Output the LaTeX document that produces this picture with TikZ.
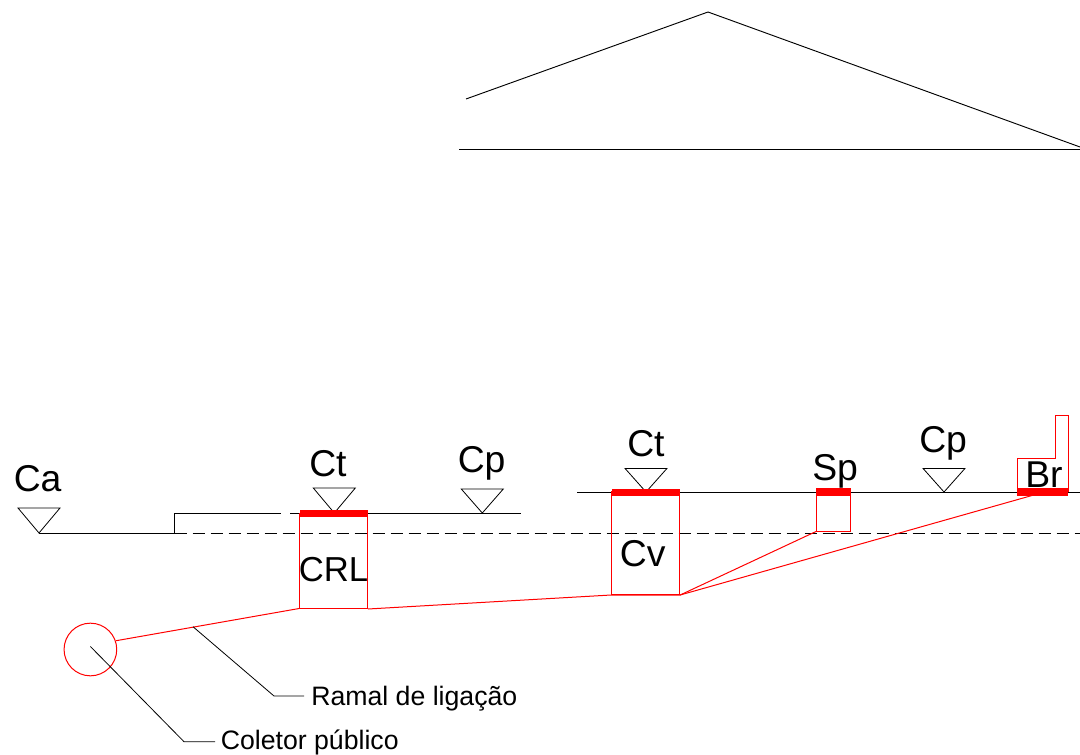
\documentclass[tikz,border=0pt]{standalone}
\usepackage{fontspec}
\setmainfont{Liberation Sans}
\tikzset{
  blk/.style={draw=black,line width=0.7pt},
  redl/.style={draw=red,line width=0.75pt},
  tri/.style={draw=black,line width=0.6pt,line join=miter},
  dashln/.style={draw=black,line width=0.7pt,dash pattern=on 9pt off 4.5pt},
  thick red/.style={fill=red,draw=none,inner sep=0pt,minimum height=5.25pt},
  cbox/.style={draw=red,line width=0.75pt,inner sep=0pt,fill=none},
  big/.style={inner sep=0pt,anchor=base west,font=\fontsize{28}{30}\selectfont},
  small/.style={inner sep=0pt,anchor=base west,font=\fontsize{20}{22}\selectfont}
}
\begin{document}
\begin{tikzpicture}[x=0.75pt,y=-0.75pt]
\useasboundingbox (0,0) rectangle (1080,755);
% roof
\coordinate (r1) at (466,99);
\coordinate (r2) at (708,12);
\coordinate (r3) at (1080,147);
\coordinate (e1) at (459,149.6);
\coordinate (e2) at (1080,149.6);
\draw[blk] (r1) -- (r2) -- (r3);
\draw[blk] (e1) -- (e2);
% ground lines
\coordinate (g0) at (39,533);
\coordinate (g1) at (174.6,533);
\coordinate (g2) at (174.6,513);
\coordinate (g3) at (281,513);
\coordinate (g4) at (290,513);
\coordinate (g5) at (521,513);
\coordinate (g6) at (1080,533);
\coordinate (h1) at (577,492);
\coordinate (h2) at (1080,492);
\draw[blk] (g0) -- (g1) -- (g2) -- (g3);
\draw[blk] (g4) -- (g5);
\draw[dashln] (g1) -- (g6);
\draw[blk] (h1) -- (h2);
% level triangles
\draw[tri] (18,508) -- (60,508) -- (g0) -- cycle;
\draw[tri] (313.3,488) -- (355.3,488) -- (334.3,513) -- cycle;
\draw[tri] (461.3,489) -- (503.3,489) -- (482.3,513) -- cycle;
\draw[tri] (625,468.4) -- (667,468.4) -- (646,492) -- cycle;
\draw[tri] (923,468.4) -- (965,468.4) -- (944,492) -- cycle;
% boxes
\node[cbox,minimum width=51pt,minimum height=71.25pt] (crl) at (333.6,560.5) {};
\node[cbox,minimum width=51pt,minimum height=76.9pt] (cv) at (645.6,543.25) {};
\node[cbox,minimum width=25.5pt,minimum height=30.75pt] (sp) at (833.5,510.5) {};
\draw[redl] (1017.5,492) -- (1017.5,458) -- (1055,458) -- (1055,415.5) -- (1068,415.5) -- (1068,492);
% thick covers
\node[thick red,minimum width=51pt] (tc) at (333.6,513) {};
\node[thick red,minimum width=51pt] (tv) at (645.6,492.5) {};
\node[thick red,minimum width=26pt,minimum height=5.6pt] (ts) at (833.5,492.2) {};
\node[thick red,minimum width=38pt,minimum height=5.6pt] (tb) at (1042.7,492.2) {};
% collector
\node[circle,draw=red,line width=0.75pt,inner sep=0pt,minimum size=39.5pt] (col) at (90.4,649.5) {};
% pipes
\coordinate (brp) at (1032,495.5);
\coordinate (crlr) at (368,609);
\draw[redl] (crl.south west) -- (col.19);
\draw[redl] (crlr) -- (cv.south west |- 0,595) -- (cv.south east);
\draw[redl] (cv.south east) -- (sp.south west);
\draw[redl] (cv.south east) -- (brp);
% labels
\node[big] (ca) at (13.5,491.7) {Ca};
\node[big] (ct1) at (309,476) {Ct};
\node[big] (cp1) at (457.5,472.2) {Cp};
\node[big,font=\fontsize{26}{28}\selectfont] (crlt) at (298.5,581.7) {CRL};
\node[big] (ct2) at (627,456.7) {Ct};
\node[big] (cvt) at (619.7,566.7) {Cv};
\node[big] (spt) at (812,480.5) {Sp};
\node[big] (cp2) at (919,452.5) {Cp};
\node[big] (brt) at (1025,487) {Br};
\node[small] (ram) at (311,705) {Ramal de ligação};
\node[small] (cole) at (220.5,749) {Coletor público};
% leaders
\coordinate (l1a) at (193,626.7);
\coordinate (l1b) at (274,696);
\coordinate (l1c) at (304,696);
\coordinate (l2b) at (184,741.7);
\coordinate (l2c) at (215,741.7);
\draw[tri] (l1a) -- (l1b) -- (l1c);
\draw[tri] (col.center) ++(0,-3) -- (l2b) -- (l2c);
\end{tikzpicture}
\end{document}
